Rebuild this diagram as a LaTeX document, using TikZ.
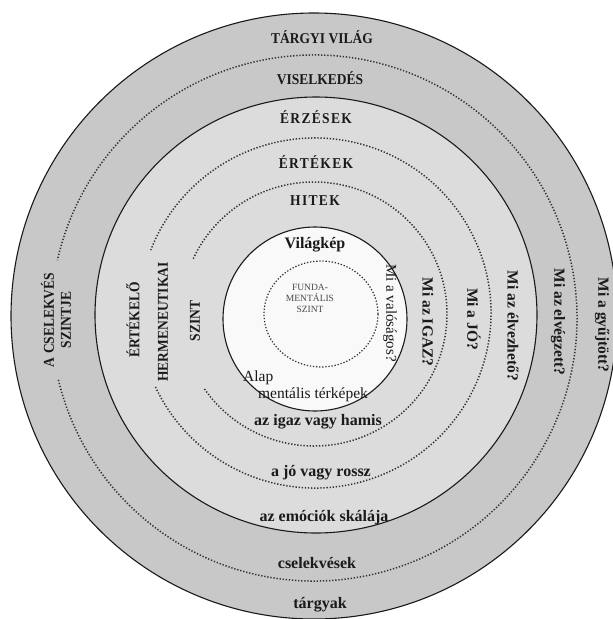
\documentclass[tikz,border=0pt]{standalone}
\usepackage{fontspec}
\setmainfont{Liberation Serif}
\newfontfamily\condfont[FakeStretch=0.9]{Liberation Serif}
\newfontfamily\spcfont[FakeStretch=0.9,LetterSpace=9]{Liberation Serif}
\definecolor{outerband}{HTML}{C8C8C8}
\definecolor{midband}{HTML}{DCDCDC}
\definecolor{innerdisk}{HTML}{F9F9F9}
\definecolor{ink}{HTML}{1A1A1A}
\begin{document}
\begin{tikzpicture}[x=1pt,y=-1pt,
  ring/.style={draw=ink, line width=1.1pt},
  dotline/.style={draw=ink!90, line width=1.5pt, dash pattern=on 1.3pt off 1.8pt},
  capt/.style={font=\fontsize{15}{17}\selectfont\condfont\bfseries, text=ink, inner sep=0pt, align=center},
  spct/.style={font=\fontsize{15}{17}\selectfont\spcfont\bfseries, text=ink, inner sep=0pt},
  lowt/.style={font=\fontsize{16}{18}\selectfont\bfseries, text=ink, inner sep=0pt},
  qt/.style={font=\fontsize{15.5}{18}\selectfont\bfseries, text=ink, inner sep=0pt, rotate=-90},
  regt/.style={font=\fontsize{15.5}{18}\selectfont, text=ink, inner sep=0pt},
  smallt/.style={font=\fontsize{9.5}{11}\selectfont, text=ink!80, inner sep=0pt, align=center},
]
\useasboundingbox (0,0) rectangle (613,619);
\fill[white] (0,0) rectangle (613,619);
\begin{scope}
\clip (0,0) rectangle (613,619);
\coordinate (c0) at (314,316);
\coordinate (c1) at (314,318);
\coordinate (c2) at (316,315);
\coordinate (c3) at (315,313);
\coordinate (c4) at (314,314);
\coordinate (ci) at (315,319);
% bands
\filldraw[ring, fill=outerband] (c0) circle[radius=303pt];
\filldraw[ring, fill=midband] (c2) ellipse[x radius=221pt, y radius=218pt];
\filldraw[ring, fill=innerdisk] (ci) circle[radius=92pt];
% dotted rings with gaps on the left
\draw[dotline] (c1) ++(193.6:263pt) arc[start angle=193.6, end angle=527.3, radius=263pt];
\draw[dotline] (c3) ++(205.0:176pt and 175pt) arc[start angle=205.0, end angle=518.9, x radius=176pt, y radius=175pt];
\draw[dotline] (c4) ++(214.6:133pt and 132pt) arc[start angle=214.6, end angle=515.4, x radius=133pt, y radius=132pt];
\draw[dotline, line width=1.2pt] (321,314) ellipse[x radius=57pt, y radius=53pt];
\end{scope}
% top labels
\node[capt] (targyi) at (322,37) {TÁRGYI VILÁG};
\node[capt] (viselk) at (320,78) {VISELKEDÉS};
\node[spct] (erzesek) at (316,117) {ÉRZÉSEK};
\node[spct] (ertekek) at (316,162) {ÉRTÉKEK};
\node[spct] (hitek) at (315,201) {HITEK};
\node[lowt] (vilagkep) at (315,245) {Világkép};
\node[smallt] (funda) at (310,298) {FUNDA-\\MENTÁLIS\\SZINT};
\node[regt, anchor=west] (alap) at (243,378) {Alap};
\node[regt] (terkep) at (313,395) {mentális térképek};
% bottom labels
\node[lowt] (igaz) at (318,422) {az igaz vagy hamis};
\node[lowt] (jo) at (321,473) {a jó vagy rossz};
\node[lowt] (emocio) at (324,518) {az emóciók skálája};
\node[lowt] (cselekv) at (317,563) {cselekvések};
\node[lowt] (targyak) at (320,605) {tárgyak};
% left labels
\node[capt, rotate=90] (cselszint) at (56,320) {A CSELEKVÉS\\SZINTJE};
\node[capt, rotate=90] (ertekelo) at (133,320) {ÉRTÉKELŐ};
\node[capt, rotate=90] (herm) at (163,322) {HERMENEUTIKAI};
\node[capt, rotate=90] (szint) at (195,321) {SZINT};
% right questions
\node[regt, rotate=-90, font=\fontsize{15}{18}\selectfont] (valosag) at (390,313) {Mi a valóságos?};
\node[qt] (igazq) at (428,322) {Mi az IGAZ?};
\node[qt] (joq) at (474,319) {Mi a JÓ?};
\node[qt] (elvez) at (513,326) {Mi az élvezhető?};
\node[qt] (elvegz) at (558,322) {Mi az elvégzett?};
\node[qt] (gyujt) at (602,325) {Mi a gyűjtött?};
\end{tikzpicture}
\end{document}
